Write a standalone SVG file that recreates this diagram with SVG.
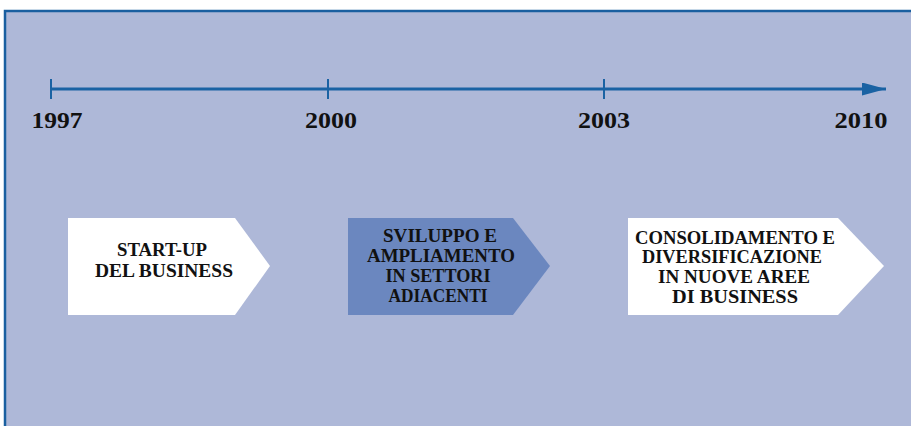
<svg xmlns="http://www.w3.org/2000/svg" width="911" height="426" viewBox="0 0 911 426">
<defs>
<style>
.yr{font-family:"Liberation Serif","Times New Roman",serif;font-weight:bold;font-size:23px;fill:#111;text-anchor:middle}
.lb{font-family:"Liberation Serif","Times New Roman",serif;font-weight:bold;font-size:18px;fill:#111;text-anchor:middle}
.ax{stroke:#1a62a3;stroke-width:3;fill:none}
.tk{stroke:#1a62a3;stroke-width:2;fill:none}
</style>
<marker id="ah" viewBox="0 0 24 13" refX="24" refY="6.5" markerWidth="24" markerHeight="13" markerUnits="userSpaceOnUse" orient="auto">
<path d="M0,0 L24,6.5 L0,13 Z" fill="#1a62a3"/>
</marker>
</defs>
<rect width="911" height="426" fill="#ffffff"/>
<rect x="5" y="11" width="910" height="420" fill="#aeb8d8" stroke="#1a5fa0" stroke-width="2.5"/>
<g id="connectors">
<line class="ax" x1="51" y1="89" x2="886" y2="89" marker-end="url(#ah)"/>
<line class="tk" x1="51" y1="79" x2="51" y2="99"/>
<line class="tk" x1="328" y1="79" x2="328" y2="99"/>
<line class="tk" x1="604" y1="79" x2="604" y2="99"/>
</g>
<g id="years">
<text class="yr" x="57" y="128" textLength="51" lengthAdjust="spacingAndGlyphs">1997</text>
<text class="yr" x="331" y="128" textLength="52" lengthAdjust="spacingAndGlyphs">2000</text>
<text class="yr" x="604" y="128" textLength="52" lengthAdjust="spacingAndGlyphs">2003</text>
<text class="yr" x="861" y="128" textLength="53" lengthAdjust="spacingAndGlyphs">2010</text>
</g>
<g id="node1">
<polygon points="68,218 235,218 270,266 235,315 68,315" fill="#ffffff"/>
<text class="lb" x="162" y="256" textLength="90" lengthAdjust="spacingAndGlyphs">START-UP</text>
<text class="lb" x="164" y="277" textLength="138" lengthAdjust="spacingAndGlyphs">DEL BUSINESS</text>
</g>
<g id="node2">
<polygon points="348,218 513,218 550,266 513,315 348,315" fill="#6b87bf"/>
<text class="lb" x="440" y="242" textLength="114" lengthAdjust="spacingAndGlyphs">SVILUPPO E</text>
<text class="lb" x="441" y="262" textLength="148" lengthAdjust="spacingAndGlyphs">AMPLIAMENTO</text>
<text class="lb" x="438" y="282" textLength="105" lengthAdjust="spacingAndGlyphs">IN SETTORI</text>
<text class="lb" x="438" y="302" textLength="99" lengthAdjust="spacingAndGlyphs">ADIACENTI</text>
</g>
<g id="node3">
<polygon points="628,218 838,218 884,266 838,315 628,315" fill="#ffffff"/>
<text class="lb" x="735" y="244" textLength="200" lengthAdjust="spacingAndGlyphs">CONSOLIDAMENTO E</text>
<text class="lb" x="732" y="263" textLength="180" lengthAdjust="spacingAndGlyphs">DIVERSIFICAZIONE</text>
<text class="lb" x="734" y="283" textLength="152" lengthAdjust="spacingAndGlyphs">IN NUOVE AREE</text>
<text class="lb" x="735" y="303" textLength="126" lengthAdjust="spacingAndGlyphs">DI BUSINESS</text>
</g>
</svg>
